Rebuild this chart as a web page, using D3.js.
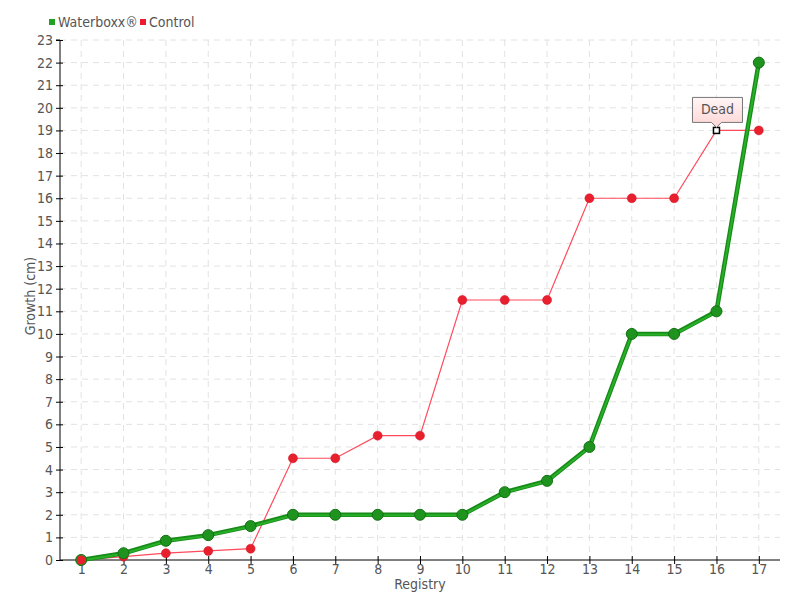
<!DOCTYPE html>
<html><head><meta charset="utf-8">
<script src="https://cdn.jsdelivr.net/npm/d3@7"></script>
<style>body{margin:0;background:#fff}text{font-family:"DejaVu Sans Condensed",sans-serif;}</style>
</head><body><svg id="c" width="800" height="600"></svg>
<script>
const registry = [1,2,3,4,5,6,7,8,9,10,11,12,13,14,15,16,17];
const waterboxx = [0,0.3,0.85,1.1,1.5,2,2,2,2,2,3,3.5,5,10,10,11,22];
const control = [0,0.15,0.3,0.4,0.5,4.5,4.5,5.5,5.5,11.5,11.5,11.5,16,16,16,19,19];
const yTicks = d3.range(0,24);
const deadIndex = 15;
const deadLabel = "Dead";

const svg = d3.select("#c");
const x = d3.scaleLinear().domain([0.5,17.5]).range([60,780]);
const y = d3.scaleLinear().domain([0,23]).range([560,40]);
const txt = "#555";
const fs = 14;

// grid
svg.append("g").selectAll("line").data(yTicks.slice(1)).join("line")
 .attr("x1",60).attr("x2",780).attr("y1",d=>y(d)).attr("y2",d=>y(d))
 .attr("stroke","#e2e2e2").attr("stroke-dasharray","6,5");
svg.append("g").selectAll("line").data(registry).join("line")
 .attr("x1",d=>x(d)).attr("x2",d=>x(d)).attr("y1",40).attr("y2",560)
 .attr("stroke","#e2e2e2").attr("stroke-dasharray","6,5");

// axes
const ya = svg.append("g").attr("transform","translate(60,0)")
 .call(d3.axisLeft(y).tickValues(yTicks).tickSize(4).tickPadding(3));
ya.select(".domain").attr("stroke","#000").attr("d","M-4,40H0V560");
ya.selectAll(".tick line").attr("x2",3).attr("x1",-4);
ya.selectAll("text").attr("fill",txt).attr("font-size",fs);
const xa = svg.append("g").attr("transform","translate(0,560)")
 .call(d3.axisBottom(x).tickValues(registry).tickSize(4).tickPadding(0));
xa.select(".domain").attr("stroke","#000").attr("d","M60,0H780");
xa.selectAll(".tick line").attr("y1",-4).attr("y2",4);
xa.selectAll("text").attr("fill",txt).attr("font-size",fs);

svg.append("text").attr("x",420).attr("y",589).attr("text-anchor","middle")
 .attr("fill",txt).attr("font-size",fs).text("Registry");
svg.append("text").attr("transform","translate(35,296) rotate(-90)").attr("text-anchor","middle")
 .attr("fill",txt).attr("font-size",fs).text("Growth (cm)");

const line = d3.line().x((d,i)=>x(registry[i])).y(d=>y(d));
const ctrlPts = control.map((v,i)=>({v,i})).filter(p=>p.i!==deadIndex);
// control
svg.append("path").datum(control).attr("d",line).attr("fill","none")
 .attr("stroke","#ff4a5c").attr("stroke-width",1.2);
svg.append("g").selectAll("circle").data(ctrlPts).join("circle")
 .attr("cx",p=>x(registry[p.i])).attr("cy",p=>y(p.v)).attr("r",4.5)
 .attr("fill","#e8202e").attr("stroke","#d01020").attr("stroke-width",0.5);
// dead marker
svg.append("rect").attr("x",x(registry[deadIndex])-3).attr("y",y(control[deadIndex])-3)
 .attr("width",6).attr("height",6).attr("fill","#fff").attr("stroke","#000").attr("stroke-width",1.5);

// waterboxx
svg.append("path").datum(waterboxx).attr("d",line).attr("fill","none")
 .attr("stroke","#178a17").attr("stroke-width",4.5);
svg.append("path").datum(waterboxx).attr("d",line).attr("fill","none")
 .attr("stroke","#28b028").attr("stroke-width",2).attr("transform","translate(0,0.5)");
svg.append("g").selectAll("circle").data(waterboxx).join("circle")
 .attr("cx",(d,i)=>x(registry[i])).attr("cy",d=>y(d)).attr("r",5.5)
 .attr("fill","#1e941e").attr("stroke","#137013").attr("stroke-width",1);
// control start point on top
svg.append("circle").attr("cx",x(registry[0])).attr("cy",y(control[0])).attr("r",4.5).attr("fill","#e8202e");

// tooltip
const defs = svg.append("defs");
const gr = defs.append("linearGradient").attr("id","tg").attr("x1",0).attr("y1",0).attr("x2",0).attr("y2",1);
gr.append("stop").attr("offset","0%").attr("stop-color","#fff6f6");
gr.append("stop").attr("offset","100%").attr("stop-color","#ffd4d4");
const tx = x(registry[deadIndex]), ty = y(control[deadIndex]);
svg.append("path").attr("d",`M${tx-24},${ty-33}H${tx+26}V${ty-8}H${tx+5}L${tx},${ty-3}L${tx-5},${ty-8}H${tx-24}Z`)
 .attr("fill","url(#tg)").attr("stroke","#777").attr("stroke-width",1);
svg.append("text").attr("x",tx+1).attr("y",ty-16).attr("text-anchor","middle")
 .attr("fill",txt).attr("font-size",fs).text(deadLabel);

// legend
const leg = [{n:"Waterboxx®",c:"#22a022",x:49},{n:"Control",c:"#ee1a30",x:140}];
const lg = svg.append("g").selectAll("g").data(leg).join("g").attr("transform",d=>`translate(${d.x},0)`);
lg.append("rect").attr("x",0).attr("y",19).attr("width",6).attr("height",6).attr("fill",d=>d.c);
lg.append("text").attr("x",9).attr("y",27).attr("fill",txt).attr("font-size",fs).text(d=>d.n);
</script></body></html>
